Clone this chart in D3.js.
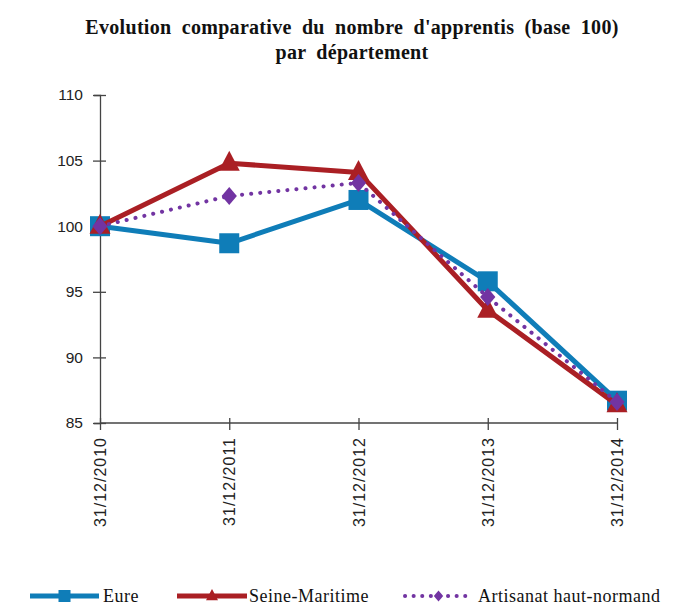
<!DOCTYPE html>
<html>
<head>
<meta charset="utf-8">
<script src="https://cdn.jsdelivr.net/npm/d3@7"></script>
<style>
  html, body { margin: 0; padding: 0; background: #fff; }
  svg { display: block; }
</style>
</head>
<body>
<svg id="chart" width="675" height="606"></svg>
<script>
const categories = ["31/12/2010", "31/12/2011", "31/12/2012", "31/12/2013", "31/12/2014"];
const eure = [100, 98.7, 102.0, 95.8, 86.7];
const seineMaritime = [100, 104.8, 104.1, 93.6, 86.4];
const artisanat = [100, 102.3, 103.3, 94.6, 86.6];
const yTicks = [85, 90, 95, 100, 105, 110];
const seriesNames = ["Eure", "Seine-Maritime", "Artisanat haut-normand"];
const titleLines = ["Evolution comparative du nombre d'apprentis (base 100)", "par département"];

(function () {
const SERIF = "Liberation Serif, DejaVu Serif, serif";
const SANS = "Liberation Sans, DejaVu Sans, sans-serif";
const series = [
  { name: seriesNames[0], values: eure, color: "#0F7DB8", width: 5, dash: null, marker: "square" },
  { name: seriesNames[1], values: seineMaritime, color: "#AA1F24", width: 5, dash: null, marker: "triangle" },
  { name: seriesNames[2], values: artisanat, color: "#7234A2", width: 4, dash: "0.1 9", marker: "diamond" }
];

const svg = d3.select("#chart");
const mLeft = 100, mRight = 617, mTop = 95, mBottom = 423;

const x = d3.scalePoint().domain(categories).range([mLeft, mRight]);
const y = d3.scaleLinear().domain([85, 110]).range([mBottom, mTop]);

// Title
const title = svg.append("text")
  .attr("text-anchor", "middle")
  .attr("font-family", SERIF)
  .attr("font-weight", "bold")
  .attr("font-size", 20)
  .attr("word-spacing", 5)
  .attr("letter-spacing", 0.3)
  .attr("fill", "#111");
title.append("tspan").attr("x", 352).attr("y", 34).text(titleLines[0]);
title.append("tspan").attr("x", 352).attr("y", 59).text(titleLines[1]);

// Y axis
const yAxis = d3.axisLeft(y).tickValues(yTicks).tickSize(6).tickPadding(9);
const gy = svg.append("g").attr("transform", `translate(${mLeft},0)`).call(yAxis);
gy.select(".domain").attr("stroke", "#444").attr("stroke-width", 1.3);
gy.selectAll(".tick line").attr("stroke", "#444").attr("stroke-width", 1.3).attr("x1", 6).attr("x2", -7);
gy.selectAll(".tick text")
  .attr("font-family", SANS)
  .attr("font-size", 15.5)
  .attr("fill", "#222")
  .attr("x", -17);

// X axis
const xAxis = d3.axisBottom(x).tickSize(6).tickPadding(8);
const gx = svg.append("g").attr("transform", `translate(0,${mBottom})`).call(xAxis);
gx.select(".domain").attr("stroke", "#444").attr("stroke-width", 1.3).attr("d", `M${mLeft},0H${mRight}`);
gx.selectAll(".tick line").attr("stroke", "#444").attr("stroke-width", 1.3).attr("y1", -5).attr("y2", 7);
gx.selectAll(".tick text")
  .attr("font-family", SANS)
  .attr("font-size", 16)
  .attr("letter-spacing", 1)
  .attr("fill", "#222")
  .attr("transform", "rotate(-90)")
  .attr("x", -14).attr("y", 0).attr("dy", "0.35em")
  .attr("text-anchor", "end");

// Markers
function drawMarker(g, type, cx, cy, color, size) {
  if (type === "square") {
    g.append("rect").attr("x", cx - size / 2).attr("y", cy - size / 2)
      .attr("width", size).attr("height", size).attr("fill", color);
  } else if (type === "triangle") {
    const h = size * 0.95;
    g.append("path").attr("d", `M${cx},${cy - h * 0.62}L${cx + size / 2},${cy + h * 0.38}L${cx - size / 2},${cy + h * 0.38}Z`).attr("fill", color);
  } else if (type === "diamond") {
    const s = size / 2;
    g.append("path").attr("d", `M${cx},${cy - s}L${cx + s * 0.85},${cy}L${cx},${cy + s}L${cx - s * 0.85},${cy}Z`).attr("fill", color);
  }
}

const line = d3.line().x((d, i) => x(categories[i])).y(d => y(d));
const markerSize = { square: 20, triangle: 21, diamond: 18 };

series.forEach(s => {
  const g = svg.append("g");
  const p = g.append("path").datum(s.values)
    .attr("d", line)
    .attr("fill", "none")
    .attr("stroke", s.color)
    .attr("stroke-width", s.width)
    .attr("stroke-linejoin", "round")
    .attr("stroke-linecap", "round");
  if (s.dash) p.attr("stroke-dasharray", s.dash);
  s.values.forEach((v, i) => drawMarker(g, s.marker, x(categories[i]), y(v), s.color, markerSize[s.marker]));
});

// Legend
const legendItems = [
  { s: series[0], x0: 30, x1: 99, tx: 103 },
  { s: series[1], x0: 177, x1: 247, tx: 249 },
  { s: series[2], x0: 405, x1: 472, tx: 478 }
];
const ly = 596;
legendItems.forEach(it => {
  const g = svg.append("g");
  const l = g.append("line").attr("x1", it.x0).attr("x2", it.x1).attr("y1", ly).attr("y2", ly)
    .attr("stroke", it.s.color).attr("stroke-width", it.s.width)
    .attr("stroke-linecap", it.s.dash ? "round" : "butt");
  if (it.s.dash) l.attr("stroke-dasharray", "0.1 8.5");
  drawMarker(g, it.s.marker, (it.x0 + it.x1) / 2, ly, it.s.color, it.s.marker === "diamond" ? 11 : 12);
  g.append("text").attr("x", it.tx).attr("y", ly + 6)
    .attr("font-family", SERIF)
    .attr("font-size", 18)
    .attr("letter-spacing", 0.5)
    .attr("fill", "#111")
    .text(it.s.name);
});
})();
</script>
</body>
</html>
